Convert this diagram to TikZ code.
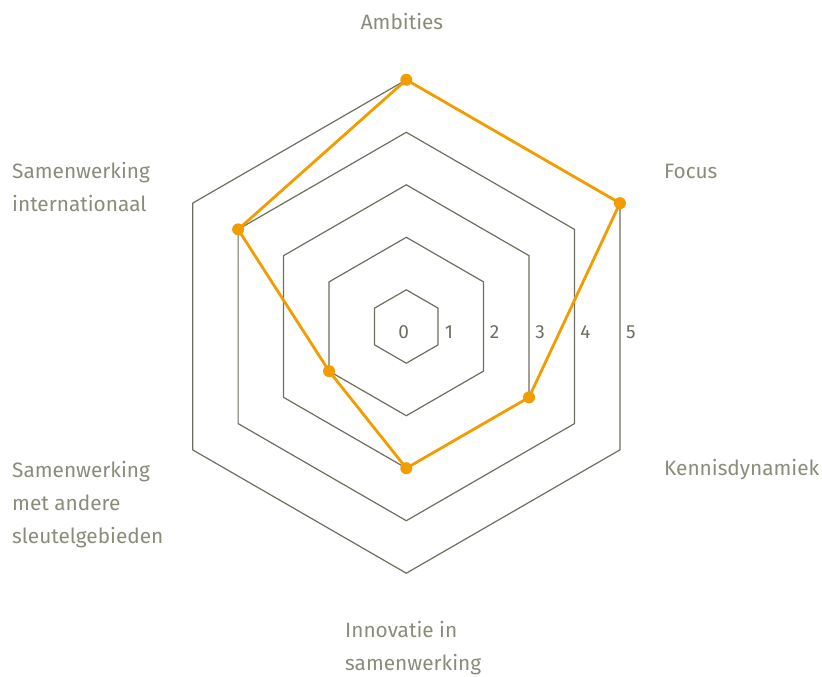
\documentclass[tikz,border=0pt]{standalone}
\usepackage{fontspec}
\setmainfont{Fira Sans}
\definecolor{grid}{HTML}{6F6D5F}
\definecolor{lbl}{HTML}{8A8C7A}
\definecolor{data}{HTML}{F39C00}
\begin{document}
\begin{tikzpicture}[x=1pt,y=-1pt,
  gridline/.style={draw=grid,line width=1.2pt,line join=miter},
  dataline/.style={draw=data,line width=2.8pt,line join=round},
  dot/.style={fill=data},
  axislbl/.style={text=lbl,font=\fontsize{20.8}{33}\selectfont,align=left,anchor=west,inner sep=0pt},
  numlbl/.style={text=grid,font=\fontsize{19}{20}\selectfont,inner sep=0pt}]
\useasboundingbox (0,0) rectangle (822,677);
\def\cx{406.3}\def\cy{326.5}\def\sx{1}
% grid hexagons
\foreach \k in {1,...,5}{
  \pgfmathsetmacro{\r}{52.5*\k-15.8}
  \draw[gridline] ({\cx+\sx*\r*cos(90)},{\cy-\r*sin(90)})
    -- ({\cx+\sx*\r*cos(30)},{\cy-\r*sin(30)})
    -- ({\cx+\sx*\r*cos(-30)},{\cy-\r*sin(-30)})
    -- ({\cx+\sx*\r*cos(-90)},{\cy-\r*sin(-90)})
    -- ({\cx+\sx*\r*cos(-150)},{\cy-\r*sin(-150)})
    -- ({\cx+\sx*\r*cos(150)},{\cy-\r*sin(150)}) -- cycle;
}
% scale numbers
\foreach \k in {0,...,5}{
  \pgfmathsetmacro{\r}{52.5*\k-15.8}
  \node[numlbl] (n\k) at ({\cx+\sx*0.866*\r+11},332) {\k};
}
% data points
\foreach \name/\a/\v in {amb/90/5, foc/30/5, ken/-30/3, inn/-90/3, sma/-150/2, sin/150/4}{
  \pgfmathsetmacro{\r}{52.5*\v-15.8}
  \coordinate (\name) at ({\cx+\sx*\r*cos(\a)},{\cy-\r*sin(\a)});
}
\draw[dataline] (amb) -- (foc) -- (ken) -- (inn) -- (sma) -- (sin) -- cycle;
\foreach \name in {amb,foc,ken,inn,sma,sin}{
  \fill[dot] (\name) circle (6);
}
% axis labels
\node[axislbl,anchor=center] (lamb) at (402,22) {Ambities};
\node[axislbl] (lfoc) at (664,171) {Focus};
\node[axislbl] (lken) at (664,470) {Kennisdynamiek};
\node[axislbl,anchor=north west] (linn) at (345,621) {Innovatie in\\samenwerking};
\node[axislbl,anchor=north west] (lsma) at (12,461) {Samenwerking\\met andere\\sleutelgebieden};
\node[axislbl,anchor=north west] (lsin) at (12,162) {Samenwerking\\internationaal};
\end{tikzpicture}
\end{document}
